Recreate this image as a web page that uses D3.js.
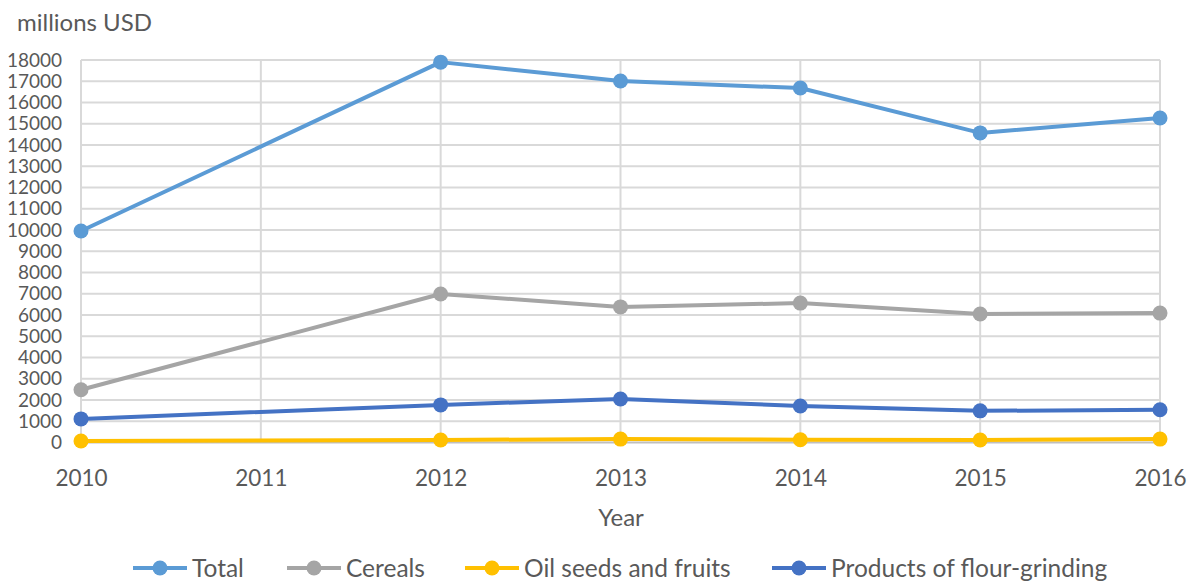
<!DOCTYPE html>
<html>
<head>
<meta charset="utf-8">
<script src="https://cdn.jsdelivr.net/npm/d3@7"></script>
<style>
  body { margin: 0; background: #fff; }
  svg text { font-family: Lato, "Open Sans", sans-serif; fill: #595959; }
</style>
</head>
<body>
<svg id="chart" width="1195" height="584"></svg>
<script>
// values (2011 has no data point)
const years = [2010, 2011, 2012, 2013, 2014, 2015, 2016];
const total = [9950, null, 17900, 17010, 16680, 14570, 15270];
const cereals = [2480, null, 6990, 6380, 6560, 6050, 6090];
const oilSeeds = [70, null, 120, 160, 130, 120, 160];
const flour = [1110, null, 1770, 2050, 1720, 1490, 1540];
const yTicks = d3.range(0, 18001, 1000);

const seriesNames = ["Total", "Cereals", "Oil seeds and fruits", "Products of flour-grinding"];
const seriesColors = ["#5b9bd5", "#a5a5a5", "#ffc000", "#4472c4"];
const seriesValues = [total, cereals, oilSeeds, flour];

const svg = d3.select("#chart");
const plotLeft = 81, plotRight = 1160, plotTop = 60, plotBottom = 442.5;

const x = d3.scaleLinear().domain([2010, 2016]).range([plotLeft, plotRight]);
const y = d3.scaleLinear().domain([0, 18000]).range([plotBottom, plotTop]);

// horizontal grid
svg.append("g")
  .selectAll("line")
  .data(yTicks.slice(1))
  .join("line")
  .attr("x1", plotLeft).attr("x2", plotRight)
  .attr("y1", d => y(d)).attr("y2", d => y(d))
  .attr("stroke", "#d9d9d9").attr("stroke-width", 2);

// vertical grid
svg.append("g")
  .selectAll("line")
  .data(years)
  .join("line")
  .attr("x1", d => x(d)).attr("x2", d => x(d))
  .attr("y1", plotTop).attr("y2", plotBottom)
  .attr("stroke", "#d9d9d9").attr("stroke-width", 2);

// base axis line
svg.append("line")
  .attr("x1", plotLeft).attr("x2", plotRight)
  .attr("y1", y(0)).attr("y2", y(0))
  .attr("stroke", "#bfbfbf").attr("stroke-width", 2);

// y axis labels
const yAxis = d3.axisLeft(y).tickValues(yTicks).tickFormat(d3.format("d")).tickSize(0).tickPadding(0);
const gy = svg.append("g").attr("transform", "translate(62,0)").call(yAxis);
gy.select(".domain").remove();
gy.selectAll("text").attr("font-size", 19).attr("font-family", null);

// x axis labels
const xAxis = d3.axisBottom(x).tickValues(years).tickFormat(d3.format("d")).tickSize(0).tickPadding(0);
const gx = svg.append("g").attr("transform", "translate(0,470)").call(xAxis);
gx.select(".domain").remove();
gx.selectAll("text").attr("font-size", 22.5).attr("font-family", null);

// titles
svg.append("text").attr("x", 17).attr("y", 31).attr("font-size", 24).text("millions USD");
svg.append("text").attr("x", 621).attr("y", 526)
  .attr("text-anchor", "middle").attr("font-size", 24).text("Year");

// series
const line = d3.line().x(d => x(d.year)).y(d => y(d.value));
seriesValues.forEach((vals, i) => {
  const pts = years.map((yr, j) => ({ year: yr, value: vals[j] })).filter(d => d.value != null);
  svg.append("path")
    .datum(pts)
    .attr("d", line)
    .attr("fill", "none")
    .attr("stroke", seriesColors[i])
    .attr("stroke-width", 4)
    .attr("stroke-linejoin", "round");
  svg.append("g")
    .selectAll("circle")
    .data(pts)
    .join("circle")
    .attr("cx", d => x(d.year))
    .attr("cy", d => y(d.value))
    .attr("r", 7.5)
    .attr("fill", seriesColors[i]);
});

// legend
const legendX = [133, 287, 465, 772];
const lg = svg.append("g");
seriesNames.forEach((name, i) => {
  const g = lg.append("g").attr("transform", `translate(${legendX[i]},568)`);
  g.append("line").attr("x1", 0).attr("x2", 54).attr("y1", 0).attr("y2", 0)
    .attr("stroke", seriesColors[i]).attr("stroke-width", 4);
  g.append("circle").attr("cx", 27).attr("cy", 0).attr("r", 7.5).attr("fill", seriesColors[i]);
  g.append("text").attr("x", 59).attr("y", 9).attr("font-size", 24.5).text(name);
});
</script>
</body>
</html>
